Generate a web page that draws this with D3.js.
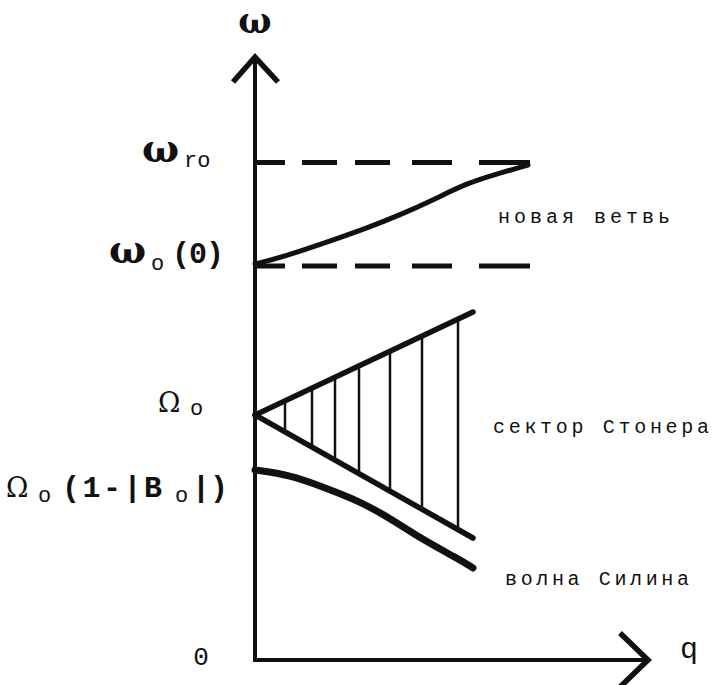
<!DOCTYPE html>
<html>
<head>
<meta charset="utf-8">
<script src="https://cdn.jsdelivr.net/npm/d3@7"></script>
<style>
  body { margin: 0; background: #fff; }
  svg { display: block; }
</style>
</head>
<body>
<svg id="chart" width="715" height="685"></svg>
<script>
// ---- spectrum data (q in arbitrary units, ω in arbitrary units) ----
const qEnd = 7.86;          // length of the q axis
const omegaEnd = 12.06;     // length of the ω axis

// characteristic frequencies marked on the ω axis
const omegaR0 = 9.95;       // ω_ro
const omega00 = 7.88;       // ω_o(0)
const Omega0 = 4.9;         // Ω_o
const OmegaB = 3.8;         // Ω_o(1-|B_o|)
const dashQ = 5.5;          // extent of the dashed limits

// "новая ветвь" – new branch
const branchQ = [0, 0.56, 1.56, 2.24, 2.9, 3.56, 4.24, 4.9, 5.46];
const branchW = [7.92, 8.06, 8.4, 8.64, 8.9, 9.2, 9.54, 9.74, 9.9];

// Stoner sector boundaries (straight lines from Ω_o)
const stonerQ = [0, 4.36];
const stonerUpper = [Omega0, 6.96];
const stonerLower = [Omega0, 2.44];
const hatchQ = [0.6, 1.14, 1.6, 2.08, 2.7, 3.34, 4.06];

// "волна Силина" – Silin wave
const silinQ = [0, 0.7, 1.36, 2.04, 2.7, 3.36, 4.04, 4.36];
const silinW = [3.8, 3.7, 3.46, 3.2, 2.84, 2.4, 2.04, 1.84];

// captions
const regionLabels = ["новая ветвь", "сектор Стонера", "волна Силина"];
const axisLabels = ["ω", "q", "0"];

// ---- drawing ----
const svg = d3.select("#chart");
const x = d3.scaleLinear().domain([0, qEnd]).range([255, 648]);
const y = d3.scaleLinear().domain([0, omegaEnd]).range([660, 57]);

const ink = "#111";
const line = d3.line().x(d => x(d[0])).y(d => y(d[1]));
const smooth = d3.line().x(d => x(d[0])).y(d => y(d[1])).curve(d3.curveBasis);

// dashed limits ω_ro and ω_o(0)
[omegaR0, omega00].forEach(w => {
  svg.append("path")
    .attr("d", line([[0, w], [dashQ, w]]))
    .attr("fill", "none").attr("stroke", ink).attr("stroke-width", 5)
    .attr("stroke-dasharray", "30,17,35,18,35,22,40,27,60");
});

// new branch
svg.append("path")
  .attr("d", smooth(branchQ.map((q, i) => [q, branchW[i]])))
  .attr("fill", "none").attr("stroke", ink).attr("stroke-width", 5)
  .attr("stroke-linecap", "round");

// Stoner sector: hatching
const upperAt = d3.scaleLinear().domain(stonerQ).range(stonerUpper);
const lowerAt = d3.scaleLinear().domain(stonerQ).range(stonerLower);
svg.append("g").selectAll("line").data(hatchQ).join("line")
  .attr("x1", d => x(d)).attr("x2", d => x(d))
  .attr("y1", d => y(upperAt(d))).attr("y2", d => y(lowerAt(d)))
  .attr("stroke", ink).attr("stroke-width", 2.5);

// Stoner sector: boundaries
[stonerUpper, stonerLower].forEach(b => {
  svg.append("path")
    .attr("d", line(stonerQ.map((q, i) => [q, b[i]])))
    .attr("fill", "none").attr("stroke", ink).attr("stroke-width", 5.5)
    .attr("stroke-linecap", "round");
});

// Silin wave
svg.append("path")
  .attr("d", smooth(silinQ.map((q, i) => [q, silinW[i]])))
  .attr("fill", "none").attr("stroke", ink).attr("stroke-width", 7)
  .attr("stroke-linecap", "round");

// axes with arrow heads
const axisPath = d3.path();
axisPath.moveTo(x(0), y(0) + 2); axisPath.lineTo(x(0), y(omegaEnd));
axisPath.moveTo(x(0) - 2, y(0)); axisPath.lineTo(x(qEnd), y(0));
svg.append("path").attr("d", axisPath.toString())
  .attr("fill", "none").attr("stroke", ink).attr("stroke-width", 4);

const heads = d3.path();
heads.moveTo(x(0) - 22, y(omegaEnd) + 25); heads.lineTo(x(0), y(omegaEnd)); heads.lineTo(x(0) + 23, y(omegaEnd) + 25);
heads.moveTo(x(qEnd) - 28, y(0) - 27); heads.lineTo(x(qEnd), y(0)); heads.lineTo(x(qEnd) - 28, y(0) + 27);
svg.append("path").attr("d", heads.toString())
  .attr("fill", "none").attr("stroke", ink).attr("stroke-width", 5.5)
  .attr("stroke-linejoin", "miter");

// axis titles
const greek = "'DejaVu Serif', serif";
const mono = "'Liberation Mono', 'DejaVu Sans Mono', monospace";

svg.append("text").text(axisLabels[0])
  .attr("x", x(0)).attr("y", 33).attr("text-anchor", "middle")
  .attr("font-family", greek).attr("font-weight", "bold").attr("font-size", 35).attr("fill", ink);
svg.append("text").text(axisLabels[1])
  .attr("x", 680).attr("y", y(0) - 2)
  .attr("font-family", mono).attr("font-size", 30).attr("fill", ink);
svg.append("text").text(axisLabels[2])
  .attr("x", 201).attr("y", y(0) + 5).attr("text-anchor", "middle")
  .attr("font-family", mono).attr("font-size", 26).attr("fill", ink);

// level labels on the ω axis
function omegaLabel(level, dy, x0, parts) {
  const t = svg.append("text").attr("fill", ink);
  const base = y(level) + dy;
  parts.forEach(p => {
    const s = t.append("tspan").text(p.t).attr("x", x0 + p.at);
    if (p.kind === "bigw") {
      s.attr("y", base).attr("font-family", greek).attr("font-weight", "bold").attr("font-size", 39);
    } else if (p.kind === "capO") {
      s.attr("y", base).attr("font-family", greek).attr("font-size", 27);
    } else if (p.kind === "sub") {
      s.attr("y", base + p.drop).attr("font-family", mono).attr("font-size", 22);
    } else {
      s.attr("y", base).attr("font-family", mono).attr("font-weight", "bold")
        .attr("font-size", 30).attr("letter-spacing", p.ls || 0);
    }
  });
}

omegaLabel(omegaR0, -1, 142, [
  { t: "ω", kind: "bigw", at: 0 },
  { t: "ro", kind: "sub", at: 42, drop: 5 }
]);
omegaLabel(omega00, -3, 109, [
  { t: "ω", kind: "bigw", at: 0 },
  { t: "o", kind: "sub", at: 42, drop: 7 },
  { t: "(0)", kind: "main", at: 63, ls: -1 }
]);
omegaLabel(Omega0, -3, 158, [
  { t: "Ω", kind: "capO", at: 0 },
  { t: "o", kind: "sub", at: 32, drop: 3 }
]);
omegaLabel(OmegaB, 27, 6, [
  { t: "Ω", kind: "capO", at: 0 },
  { t: "o", kind: "sub", at: 32, drop: 5 },
  { t: "(1-|B", kind: "main", at: 56, ls: 2.5 },
  { t: "o", kind: "sub", at: 169, drop: 5 },
  { t: "|)", kind: "main", at: 186, ls: 0 }
]);

// region captions, stretched to their printed widths
const captionPos = [[4.86, 8.74], [4.76, 4.54], [5.0, 1.5]];
const captionWidth = [172, 216, 184];
regionLabels.forEach((txt, i) => {
  svg.append("text").text(txt)
    .attr("x", x(captionPos[i][0])).attr("y", y(captionPos[i][1]))
    .attr("font-family", mono).attr("font-size", 20)
    .attr("textLength", captionWidth[i]).attr("lengthAdjust", "spacing")
    .attr("fill", ink);
});
</script>
</body>
</html>
